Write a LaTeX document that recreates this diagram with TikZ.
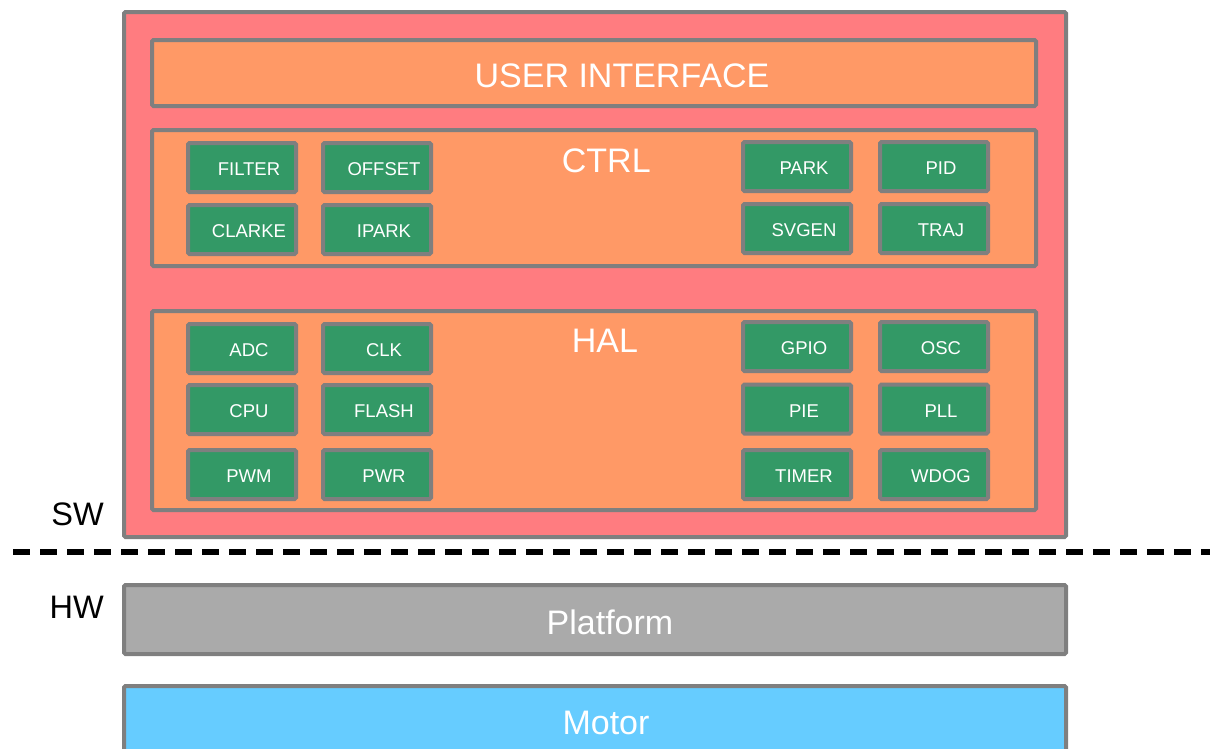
\documentclass[tikz,border=0pt]{standalone}
\usepackage{fontspec}
\setmainfont{Liberation Sans}
\usepackage{tikz}
\usetikzlibrary{positioning}
\definecolor{swred}{HTML}{FF7C80}
\definecolor{layer}{HTML}{FF9966}
\definecolor{modgreen}{HTML}{339966}
\definecolor{edgegray}{HTML}{7F7F7F}
\definecolor{platgray}{HTML}{AAAAAA}
\definecolor{motorblue}{HTML}{66CCFF}
\newcommand{\bigtext}{\fontsize{34}{40}\selectfont}
\newcommand{\modtext}[1]{\hspace*{14pt}#1}
\tikzstyle{panel}=[
        draw=edgegray,
        line width=4pt,
        rounded corners=1.5pt,
        inner sep=0pt
]
\tikzstyle{swbox}=[panel,fill=swred,minimum width=942pt,minimum height=525pt]
\tikzstyle{layerbox}=[panel,fill=layer,minimum width=884pt]
\tikzstyle{module}=[panel,fill=modgreen,minimum width=108pt,minimum height=49pt,
        text=white,font=\fontsize{18.5}{22}\selectfont,
        text height=16.2pt,text depth=0pt]
\tikzstyle{title}=[text=white,font=\bigtext,inner sep=0pt]
\tikzstyle{side}=[text=black,font=\fontsize{32.5}{38}\selectfont,inner sep=0pt,anchor=east]
\tikzstyle{border}=[black,line width=6pt,dash pattern=on 17pt off 10pt]

\begin{document}
\begin{tikzpicture}[x=1pt,y=-1pt]
\clip (0,0) rectangle (1210,748);
% software stack
\node[swbox] (sw) at (595,274.5) {};
\node[layerbox,minimum height=66pt] (ui) at (594,73) {};
\node[layerbox,minimum height=136pt] (ctrl) at (594,198) {};
\node[layerbox,minimum height=199pt] (hal) at (594,410.5) {};
\node[title] (uititle) at (622,75.5) {USER INTERFACE};
\node[title] (ctrltitle) at (606.3,160.3) {CTRL};
\node[title] (haltitle) at (605,340.7) {HAL};
%CTRL modules
\node[module] (filter) at (242,167.5) {\modtext{FILTER}};
\node[module] (offset) at (377,167.5) {\modtext{OFFSET}};
\node[module] (clarke) at (242,229.5) {\modtext{CLARKE}};
\node[module] (ipark) at (377,229.5) {\modtext{IPARK}};
\node[module] (park) at (797,166.5) {\modtext{PARK}};
\node[module] (pid) at (934,166.5) {\modtext{PID}};
\node[module] (svgen) at (797,228.5) {\modtext{SVGEN}};
\node[module] (traj) at (934,228.5) {\modtext{TRAJ}};
%HAL modules
\node[module] (adc) at (242,348.5) {\modtext{ADC}};
\node[module] (clk) at (377,348.5) {\modtext{CLK}};
\node[module] (cpu) at (242,409.5) {\modtext{CPU}};
\node[module] (flash) at (377,409.5) {\modtext{FLASH}};
\node[module] (pwm) at (242,474.5) {\modtext{PWM}};
\node[module] (pwr) at (377,474.5) {\modtext{PWR}};
\node[module] (gpio) at (797,346.5) {\modtext{GPIO}};
\node[module] (osc) at (934,346.5) {\modtext{OSC}};
\node[module] (pie) at (797,409) {\modtext{PIE}};
\node[module] (pll) at (934,409) {\modtext{PLL}};
\node[module] (timer) at (797,474.5) {\modtext{TIMER}};
\node[module] (wdog) at (934,474.5) {\modtext{WDOG}};
% hardware
\node[panel,fill=platgray,minimum width=942pt,minimum height=69pt] (platform) at (595,619.5) {};
\node[panel,fill=motorblue,minimum width=942pt,minimum height=120pt] (motor) at (595,746) {};
\node[title] (plattitle) at (610,622.5) {Platform};
\node[title] (motortitle) at (606,722.5) {Motor};
% SW / HW split
\node[side] (swlabel) at (104,514) {SW};
\node[side] (hwlabel) at (104,607) {HW};
\coordinate (splitl) at (13,552);
\coordinate (splitr) at (1215,552);
\draw[border] (splitl) -- (splitr);
\end{tikzpicture}
\end{document}
